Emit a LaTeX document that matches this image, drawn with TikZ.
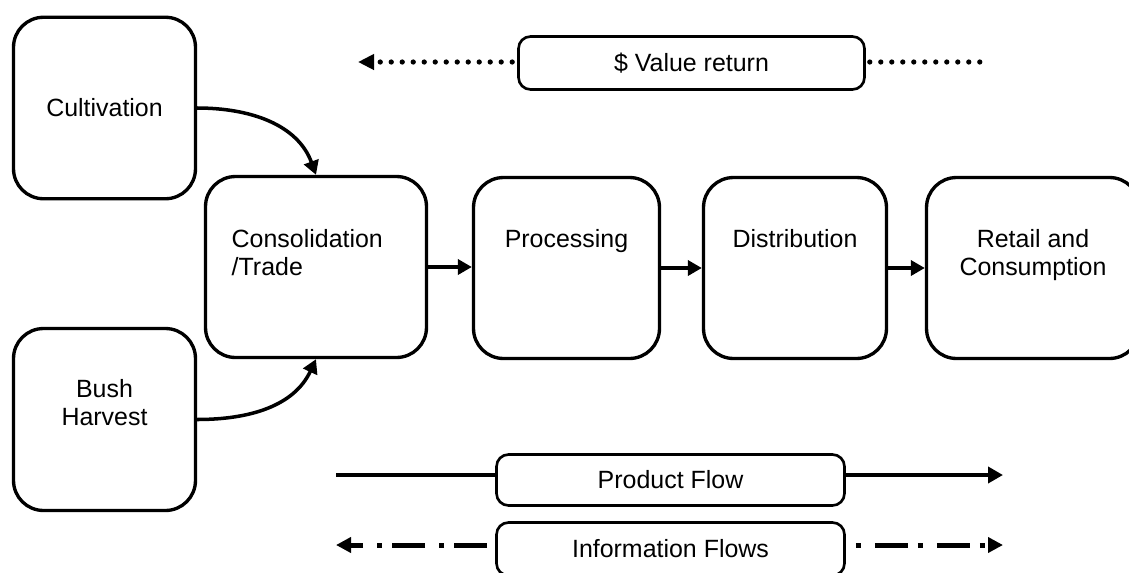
\documentclass[tikz,border=0pt]{standalone}
\usepackage{fontspec}
\setmainfont{Liberation Sans}
\usetikzlibrary{positioning,arrows.meta}

\begin{document}
\begin{tikzpicture}[x=0.02cm,y=-0.02cm,
    font=\fontsize{14.2}{15.9}\selectfont,
    box/.style={draw,line width=1.9pt,rounded corners=0.6cm,minimum width=3.66cm,minimum height=3.62cm,inner sep=0pt},
    tag/.style={draw,line width=1.5pt,rounded corners=0.24cm,minimum width=6.96cm,minimum height=1.06cm,inner sep=0pt},
    lbl/.style={inner sep=0pt,align=center},
    flow/.style={line width=2pt,-{Triangle[length=0.28cm,width=0.3cm]}},
    dotline/.style={line width=0.105cm,line cap=round,dash pattern=on 0pt off 0.22cm},
    pline/.style={line width=0.08cm},
    iline/.style={line width=0.1cm,dash pattern=on 0.66cm off 0.2cm on 0.1cm off 0.28cm}]

  \useasboundingbox (0,0) rectangle (1129,572);
  \clip (0,0) rectangle (1129,572);

  %%%% Supply chain boxes %%%%
  \node[box,minimum width=3.64cm,minimum height=3.63cm] (cult) at (104.5,108) {Cultivation};
  \node[box,minimum width=3.64cm,minimum height=3.64cm] (bush) at (104.5,419.5) {};
  \node[box,minimum width=4.42cm] (cons) at (316,267) {};
  \node[box,minimum width=3.72cm] (proc) at (566.5,268) {};
  \node[box,minimum width=3.66cm] (dist) at (795,268) {};
  \node[box,minimum width=4.26cm] (retail) at (1033,268) {};

  %% box texts
  \node[lbl,below=1.05cm of bush.north] (bushTxt) {Bush\\Harvest};
  \node[lbl,align=left,below right=1.09cm and 0.55cm of cons.north west] (consTxt) {Consolidation\\/Trade};
  \node[lbl,below=1.07cm of proc.north] (procTxt) {Processing};
  \node[lbl,below=1.07cm of dist.north] (distTxt) {Distribution};
  \node[lbl,below=1.07cm of retail.north] (retailTxt) {Retail and\\Consumption};

  %% product flow between the boxes
  \draw[flow] (cult.east) to[out=0,in=110] (cons.north);
  \draw[flow] (bush.east) to[out=0,in=-115] (cons.south);
  \draw[flow] (cons.east) -- (cons.east -| proc.west);
  \draw[flow] (proc.east) -- (dist.west);
  \draw[flow] (dist.east) -- (retail.west);

  %%%% Legend %%%%
  \node[tag,minimum width=6.92cm] (val) at (691.5,63) {\$ Value return};
  \node[tag,minimum height=1.02cm] (pf) at (670.5,480) {Product Flow};
  \node[tag] (inf) at (670.5,549) {Information Flows};

  \coordinate (valTip) at (358,62);
  \coordinate (valEnd) at (982,62);
  \coordinate (pfTail) at (336,475);
  \coordinate (pfTip) at (1003,475);
  \coordinate (infL) at (336,545);
  \coordinate (infR) at (1003,545);

  %% value return (dotted)
  \draw[dotline,shorten <=0.1cm,-{Triangle[length=0.32cm,width=0.3cm]}] (valTip -| val.west) -- (valTip);
  \draw[dotline,shorten <=0.08cm] (valTip -| val.east) -- (valEnd);
  %% product flow (solid)
  \draw[pline] (pfTail) -- (pfTail -| pf.west);
  \draw[pline,-{Triangle[length=0.3cm,width=0.32cm]}] (pfTail -| pf.east) -- (pfTip);
  %% information flows (dash dot)
  \draw[iline,dash phase=1.08cm,-{Triangle[length=0.3cm,width=0.3cm]}] (infL -| inf.west) -- (infL);
  \draw[iline,dash phase=0.66cm,-{Triangle[length=0.3cm,width=0.3cm]}] (infL -| inf.east) -- (infR);

\end{tikzpicture}
\end{document}
